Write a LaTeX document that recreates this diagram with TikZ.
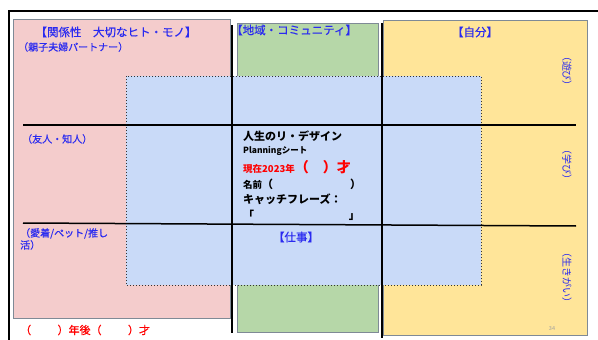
\documentclass[tikz,border=0pt]{standalone}
\usepackage{fontspec}
\setmainfont{Noto Sans CJK JP}
\newfontfamily\medfont{Noto Sans CJK JP}[FakeBold=0.5]
\definecolor{pinkfill}{HTML}{F4CCCC}
\definecolor{greenfill}{HTML}{B6D7A8}
\definecolor{yellowfill}{HTML}{FFE599}
\definecolor{bluefill}{HTML}{C9DAF8}
\definecolor{boxedge}{HTML}{7F8A96}
\definecolor{labelblue}{HTML}{2A2AF0}
\definecolor{labelred}{HTML}{FF0000}
\definecolor{pagegray}{HTML}{A0A0A0}
\tikzset{
  areabox/.style={draw=boxedge, line width=0.9pt},
  sepline/.style={draw=black, line width=1.5pt},
  head/.style={text=labelblue, font=\medfont\fontsize{11.5}{13}\selectfont, inner sep=0pt},
  sub/.style={text=labelblue, font=\medfont\fontsize{10}{12}\selectfont, inner sep=0pt, anchor=west},
  side/.style={text=labelblue, font=\fontsize{10}{11}\selectfont, inner sep=0pt, rotate=-90},
  centre/.style={font=\bfseries\fontsize{11}{12}\selectfont, inner sep=0pt, anchor=west},
}
\begin{document}
\begin{tikzpicture}[x=1pt,y=-1pt]
\useasboundingbox (0,0) rectangle (598,340);
\fill[white] (0,0) rectangle (598,340);
\begin{scope}
\clip (0,0) rectangle (598,340);
\draw[line width=2pt] (8.5,345) -- (8.5,11) -- (605,11);
\end{scope}
% area boxes
\draw[areabox, fill=pinkfill] (13.5,19) rectangle (230,318);
\draw[areabox, fill=greenfill] (237,23) rectangle (378,332);
\draw[areabox, fill=yellowfill] (383,20.5) rectangle (587,335);
% central dotted box
\draw[fill=bluefill, draw=black!80, line width=1pt, dotted] (126,76) rectangle (481,285);
% separator lines
\coordinate (v1t) at (232,25);
\coordinate (v1b) at (232,333);
\coordinate (v2t) at (382,23);
\coordinate (v2b) at (382,338);
\coordinate (h1l) at (23,125);
\coordinate (h1r) at (576,125);
\coordinate (h2l) at (23,223);
\coordinate (h2r) at (576,226);
\draw[sepline] (v1t) -- (v1b);
\draw[sepline] (v2t) -- (v2b);
\draw[sepline] (h1l) -- (h1r);
\draw[sepline] (h2l) -- (h2r);
% labels
\node[head] (rel) at (116,32) {【関係性　大切なヒト・モノ】};
\node[sub] (fam) at (18,47) {（親子夫婦パートナー）};
\node[head, anchor=west] (com) at (231,30) {【地域・コミュニティ】};
\node[head] (self) at (475,32) {【自分】};
\node[side] (play) at (567,71) {（遊び）};
\node[side] (learn) at (567,164) {（学び）};
\node[side] (life) at (567,277) {（生きがい）};
\node[sub] (friend) at (22,139) {（友人・知人）};
\node[sub, align=left, anchor=north west] (pet) at (20,228) {（愛着/ペット/推し\\活）};
\node[sub, text=labelred, font=\medfont\fontsize{11}{12}\selectfont] (years) at (20,330) {（\hspace{2.4em}）年後（\hspace{2.4em}）才};
\node[text=pagegray, font=\fontsize{5.5}{6}\selectfont, inner sep=0pt] (page) at (552,329) {34};
\node[head] (work) at (296,237) {【仕事】};
% centre text
\node[centre] (t1) at (243,136) {人生のリ・デザイン};
\node[centre, font=\bfseries\fontsize{8.5}{10}\selectfont] (t2) at (243,151) {Planningシート};
\node[centre, text=labelred, font=\bfseries\fontsize{9.5}{11}\selectfont] (t3) at (243,167) {現在2023年{\fontsize{14}{15}\selectfont（　）才}};
\node[centre] (t4) at (243,184) {{\fontsize{9.5}{11}\selectfont 名前}（\hspace{7em}）};
\node[centre] (t5) at (243,199) {キャッチフレーズ：};
\node[centre] (t6) at (243,215) {「\hspace{8.6em}」};
\end{tikzpicture}
\end{document}
